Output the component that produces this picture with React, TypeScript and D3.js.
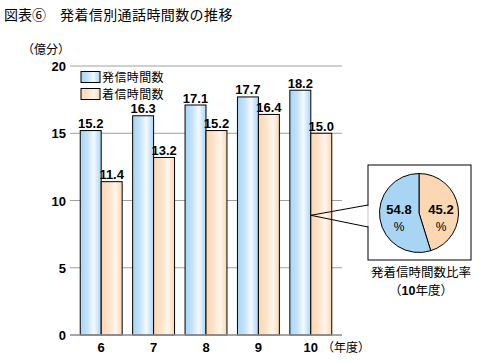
import React from 'react';
import * as d3 from 'd3';

const years = ['6', '7', '8', '9', '10'];
const outgoing = [15.2, 16.3, 17.1, 17.7, 18.2];
const incoming = [11.4, 13.2, 15.2, 16.4, 15.0];
const yTicks = [0, 5, 10, 15, 20];
const seriesNames = ['発信時間数', '着信時間数'];
const pieValues = [54.8, 45.2];

const W = 482;
const H = 362;
const BLUE = '#a9d5f5';
const ORANGE = '#fbd7b3';
const JP = '"Noto Sans CJK JP", "Noto Sans", sans-serif';
const NUM = '"Liberation Sans", Arial, sans-serif';

export default function App() {
  const y = d3.scaleLinear().domain([0, 20]).range([335, 66]);
  const x = d3.scaleBand<string>().domain(years).range([75, 337]).paddingInner(0.2).paddingOuter(0.1);
  const bw = x.bandwidth() / 2;

  // pie: orange slice from 12 o'clock clockwise, blue the rest
  const pieCx = 419;
  const pieCy = 213;
  const pieR = 39.5;
  const arcs = d3.pie<number>().sort(null).startAngle(0).endAngle(Math.PI * 2)([pieValues[1], pieValues[0]]);
  const arc = d3.arc<d3.PieArcDatum<number>>().innerRadius(0).outerRadius(pieR);

  const lastX = (x('10') as number) + bw;
  const calloutY = y(8.9);

  return (
    <svg width={W} height={H} style={{ position: 'absolute', left: 0, top: 0, background: '#fff' }}>
      <defs>
        <linearGradient id="gBlue" x1="0" x2="1" y1="0" y2="0">
          <stop offset="0" stopColor={BLUE} />
          <stop offset="0.35" stopColor="#c4e3f8" />
          <stop offset="0.65" stopColor="#f4faff" />
          <stop offset="1" stopColor={BLUE} />
        </linearGradient>
        <linearGradient id="gOrange" x1="0" x2="1" y1="0" y2="0">
          <stop offset="0" stopColor={ORANGE} />
          <stop offset="0.35" stopColor="#fde2c8" />
          <stop offset="0.68" stopColor="#fff6ee" />
          <stop offset="1" stopColor={ORANGE} />
        </linearGradient>
      </defs>

      <text x={4} y={20} fontFamily={JP} fontSize={14} fill="#000">図表⑥</text>
      <text x={60} y={20} fontFamily={JP} fontSize={14} letterSpacing={0.4} fill="#000">発着信別通話時間数の推移</text>
      <text x={22} y={54} fontFamily={JP} fontSize={12} fill="#000">（億分）</text>

      {yTicks.map((t) => (
        <g key={t}>
          <line x1={70} x2={342} y1={y(t)} y2={y(t)} stroke="#a0a0a0" strokeWidth={1} />
          <text x={66} y={y(t) + 5} textAnchor="end" fontFamily={NUM} fontWeight="bold" fontSize={13}>{t}</text>
        </g>
      ))}

      {years.map((yr, i) => {
        const x0 = x(yr) as number;
        return (
          <g key={yr}>
            <rect x={x0} y={y(outgoing[i])} width={bw} height={y(0) - y(outgoing[i])} fill="url(#gBlue)" stroke="#000" strokeWidth={1} />
            <rect x={x0 + bw} y={y(incoming[i])} width={bw} height={y(0) - y(incoming[i])} fill="url(#gOrange)" stroke="#000" strokeWidth={1} />
            <text x={x0 + bw / 2} y={y(outgoing[i]) - 2.5} textAnchor="middle" fontFamily={NUM} fontWeight="bold" fontSize={13}>{outgoing[i].toFixed(1)}</text>
            <text x={x0 + bw * 1.5} y={y(incoming[i]) - 2.5} textAnchor="middle" fontFamily={NUM} fontWeight="bold" fontSize={13}>{incoming[i].toFixed(1)}</text>
            <text x={x0 + bw} y={352} textAnchor="middle" fontFamily={NUM} fontWeight="bold" fontSize={13}>{yr}</text>
          </g>
        );
      })}
      <text x={322} y={352} fontFamily={JP} fontSize={12}>（年度）</text>

      <line x1={70} x2={342} y1={y(0)} y2={y(0)} stroke="#999" strokeWidth={1.5} />

      {/* legend */}
      {seriesNames.map((name, i) => (
        <g key={name} transform={`translate(81,${71.5 + i * 17})`}>
          <rect x={0} y={0} width={19} height={11} fill={i === 0 ? 'url(#gBlue)' : 'url(#gOrange)'} stroke="#000" strokeWidth={1} />
          <text x={21} y={10} fontFamily={JP} fontSize={12} letterSpacing={0.4}>{name}</text>
        </g>
      ))}

      {/* callout */}
      <rect x={368} y={165} width={103} height={95} fill="#fff" stroke="#000" strokeWidth={1} />
      <polyline points={`368,205 ${lastX},${calloutY} 368,227`} fill="none" stroke="#000" strokeWidth={1} />
      <line x1={368} x2={368} y1={206} y2={226} stroke="#fff" strokeWidth={1.5} />
      <g transform={`translate(${pieCx},${pieCy})`}>
        {arcs.map((a, i) => (
          <path key={i} d={arc(a) as string} fill={i === 0 ? ORANGE : BLUE} stroke="#000" strokeWidth={1} />
        ))}
      </g>
      <text x={399} y={214} textAnchor="middle" fontFamily={NUM} fontWeight="bold" fontSize={13}>{pieValues[0].toFixed(1)}</text>
      <text x={399} y={231} textAnchor="middle" fontFamily={NUM} fontSize={12}>%</text>
      <text x={441} y={214} textAnchor="middle" fontFamily={NUM} fontWeight="bold" fontSize={13}>{pieValues[1].toFixed(1)}</text>
      <text x={441} y={231} textAnchor="middle" fontFamily={NUM} fontSize={12}>%</text>
      <text x={421} y={277} textAnchor="middle" fontFamily={JP} fontSize={12.5}>発着信時間数比率</text>
      <text x={421} y={295} textAnchor="middle" fontFamily={JP} fontSize={12.5}>（<tspan fontFamily={NUM} fontWeight="bold">10</tspan>年度）</text>
    </svg>
  );
}
